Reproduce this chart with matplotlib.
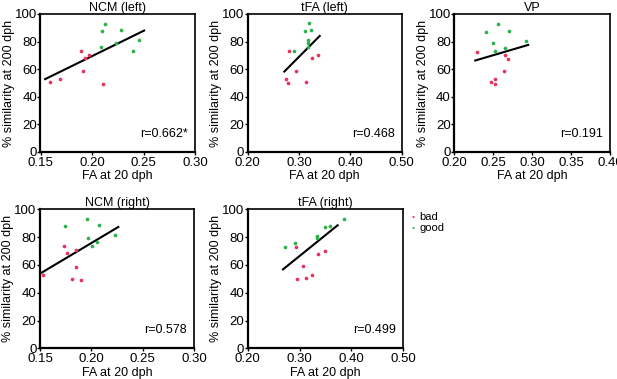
import matplotlib
matplotlib.use("Agg")
from matplotlib import pyplot as plt

plt.rcParams['font.family'] = ['Liberation Sans', 'DejaVu Sans']

# NCM (left)
ncm_l_bad_x = [0.159, 0.169, 0.189, 0.191, 0.193, 0.197, 0.211]
ncm_l_bad_y = [50.6, 53.0, 73.0, 59.0, 68.0, 70.4, 49.6]
ncm_l_good_x = [0.213, 0.210, 0.209, 0.223, 0.228, 0.240, 0.246]
ncm_l_good_y = [93.0, 87.7, 76.0, 79.3, 88.2, 73.3, 81.0]
ncm_l_fit_x = [0.1545, 0.2506]
ncm_l_fit_y = [52.8, 88.0]

# tFA (left)
tfa_l_bad_x = [0.2805, 0.2747, 0.2786, 0.2935, 0.3143, 0.3247, 0.3377]
tfa_l_bad_y = [73.3, 53.0, 49.9, 59.0, 50.8, 68.2, 70.6]
tfa_l_good_x = [0.2909, 0.3123, 0.3188, 0.3234, 0.3169, 0.3175, 0.3170]
tfa_l_good_y = [73.3, 87.7, 93.3, 88.4, 81.0, 79.3, 76.0]
tfa_l_fit_x = [0.2714, 0.3403]
tfa_l_fit_y = [58.3, 84.1]

# VP
vp_bad_x = [0.2295, 0.2470, 0.2526, 0.2526, 0.2632, 0.2654, 0.2684]
vp_bad_y = [72.8, 50.8, 52.8, 49.4, 58.8, 70.1, 67.7]
vp_good_x = [0.2410, 0.2564, 0.2697, 0.2496, 0.2517, 0.2650, 0.2915]
vp_good_y = [87.2, 92.8, 88.0, 79.0, 73.0, 75.7, 80.7]
vp_fit_x = [0.2269, 0.2949]
vp_fit_y = [66.3, 77.6]

# NCM (right)
ncm_r_bad_x = [0.1532, 0.1737, 0.1760, 0.1850, 0.1850, 0.1810, 0.1899]
ncm_r_bad_y = [52.8, 73.3, 68.5, 70.9, 58.5, 50.1, 49.4]
ncm_r_good_x = [0.1744, 0.1955, 0.1964, 0.2078, 0.2010, 0.2055, 0.2227]
ncm_r_good_y = [87.8, 93.3, 79.6, 88.5, 73.6, 76.3, 81.3]
ncm_r_fit_x = [0.150, 0.2263]
ncm_r_fit_y = [53.7, 87.3]

# tFA (right)
tfa_r_bad_x = [0.2931, 0.2944, 0.3072, 0.3117, 0.3240, 0.3349, 0.3496]
tfa_r_bad_y = [72.9, 49.6, 59.0, 50.6, 53.0, 67.9, 70.3]
tfa_r_good_x = [0.2726, 0.2918, 0.3336, 0.3342, 0.3484, 0.3587, 0.3850]
tfa_r_good_y = [73.1, 76.0, 80.8, 79.1, 87.5, 88.2, 93.3]
tfa_r_fit_x = [0.2681, 0.3734]
tfa_r_fit_y = [56.8, 88.5]

panels = [
    ("NCM (left)", [40.5, 14, 154.5, 138], (0.15, 0.30), [0.15, 0.20, 0.25, 0.30],
     ncm_l_bad_x, ncm_l_bad_y, ncm_l_good_x, ncm_l_good_y, ncm_l_fit_x, ncm_l_fit_y, "r=0.662*"),
    ("tFA (left)", [247.7, 14, 154, 138], (0.20, 0.50), [0.20, 0.30, 0.40, 0.50],
     tfa_l_bad_x, tfa_l_bad_y, tfa_l_good_x, tfa_l_good_y, tfa_l_fit_x, tfa_l_fit_y, "r=0.468"),
    ("VP", [454.3, 14, 155.7, 138], (0.20, 0.40), [0.20, 0.25, 0.30, 0.35, 0.40],
     vp_bad_x, vp_bad_y, vp_good_x, vp_good_y, vp_fit_x, vp_fit_y, "r=0.191"),
    ("NCM (right)", [40, 209.3, 154, 139], (0.15, 0.30), [0.15, 0.20, 0.25, 0.30],
     ncm_r_bad_x, ncm_r_bad_y, ncm_r_good_x, ncm_r_good_y, ncm_r_fit_x, ncm_r_fit_y, "r=0.578"),
    ("tFA (right)", [247.7, 209.3, 155.6, 139], (0.20, 0.50), [0.20, 0.30, 0.40, 0.50],
     tfa_r_bad_x, tfa_r_bad_y, tfa_r_good_x, tfa_r_good_y, tfa_r_fit_x, tfa_r_fit_y, "r=0.499"),
]

W, H = 617, 379
bad_color = '#e8335c'
good_color = '#2bb34b'

fig = plt.figure(figsize=(W / 100, H / 100), dpi=100)

for title, (px, py, pw, ph), xlim, xticks, bx, by, gx, gy, fx, fy, rtxt in panels:
    ax = fig.add_axes([px / W, 1 - (py + ph) / H, pw / W, ph / H])
    ax.scatter(bx, by, s=7, color=bad_color, linewidths=0, zorder=3)
    ax.scatter(gx, gy, s=7, color=good_color, linewidths=0, zorder=3)
    ax.plot(fx, fy, color='black', linewidth=1.5, zorder=2)
    ax.set_xlim(*xlim)
    ax.set_ylim(0, 100)
    ax.set_xticks(xticks)
    ax.set_xticklabels([f'{t:.2f}' for t in xticks])
    ax.set_yticks([0, 20, 40, 60, 80, 100])
    ax.tick_params(direction='out', length=2, width=1, labelsize=9.5)
    ax.tick_params(axis='x', pad=1.5)
    ax.tick_params(axis='y', pad=0.5)
    for side in ['left', 'bottom']:
        ax.spines[side].set_linewidth(1.6)
    for side in ['top', 'right']:
        ax.spines[side].set_linewidth(1.2)
    ax.set_title(title, fontsize=9, pad=1)
    ax.set_xlabel('FA at 20 dph', fontsize=9, labelpad=1)
    ax.set_ylabel('% similarity at 200 dph', fontsize=9, labelpad=0)
    ax.text(0.955, 0.09, rtxt, transform=ax.transAxes, ha='right', va='bottom', fontsize=9)

# legend
fig.text(413 / W, 1 - 217 / H, '•', color=bad_color, fontsize=6, ha='center', va='center')
fig.text(419 / W, 1 - 217 / H, 'bad', fontsize=8, ha='left', va='center')
fig.text(413 / W, 1 - 228 / H, '•', color=good_color, fontsize=6, ha='center', va='center')
fig.text(419 / W, 1 - 228 / H, 'good', fontsize=8, ha='left', va='center')

fig.savefig('out.png', dpi=100)
